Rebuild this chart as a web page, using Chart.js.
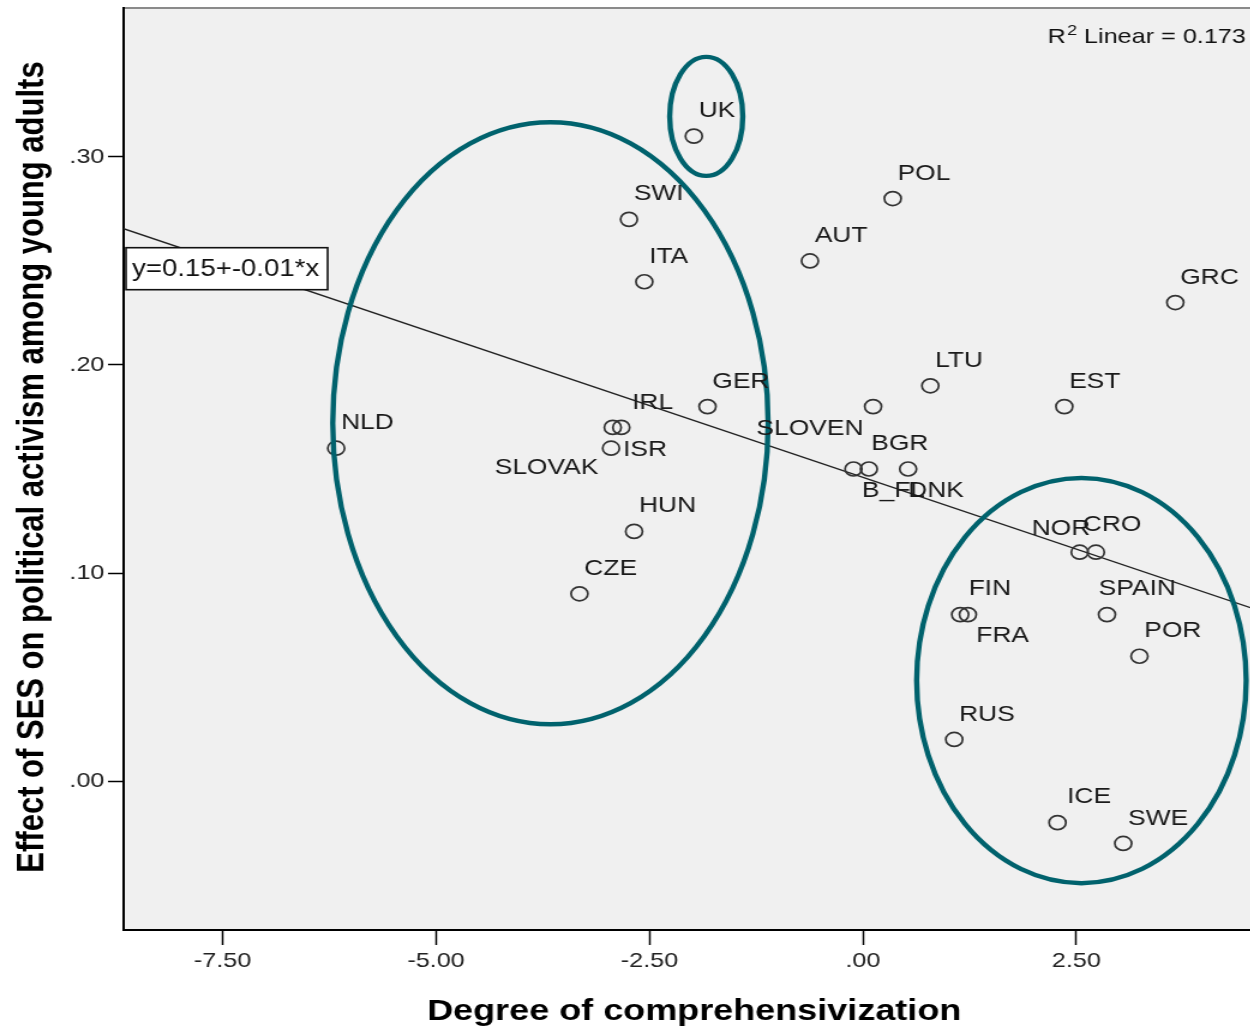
<!DOCTYPE html>
<html>
<head>
<meta charset="utf-8">
<script src="https://cdn.jsdelivr.net/npm/chart.js@4.4.1/dist/chart.umd.min.js"></script>
<style>
  html, body { margin: 0; padding: 0; background: #fff; overflow: hidden; }
  /* the original export is stretched sideways, so stretch the whole canvas */
  #wrap { width: 1042px; height: 1026px; transform: scaleX(1.2); transform-origin: 0 0; }
  canvas { display: block; }
</style>
</head>
<body>
<div id="wrap"><canvas id="ctx" width="1042" height="1026"></canvas></div>
<script>
const countries = ['UK','SWI','ITA','POL','AUT','GRC','NLD','IRL','SLOVAK','ISR','GER','HUN','CZE',
  'SLOVEN','LTU','EST','BGR','B_FL','DNK','NOR','CRO','FIN','FRA','SPAIN','POR','RUS','ICE','SWE'];
const comprehensivization = [-1.98,-2.74,-2.56,0.35,-0.62,3.66,-6.17,-2.83,-2.93,-2.95,-1.82,-2.68,-3.32,
  0.12,0.79,2.36,0.07,-0.11,0.53,2.54,2.73,1.14,1.23,2.86,3.24,1.07,2.28,3.05];
const sesEffect = [0.31,0.27,0.24,0.28,0.25,0.23,0.16,0.17,0.17,0.16,0.18,0.12,0.09,
  0.18,0.19,0.18,0.15,0.15,0.15,0.11,0.11,0.08,0.08,0.08,0.06,0.02,-0.02,-0.03];

const fitIntercept = 0.146;
const fitSlope = -0.0138;
const rSquared = 0.173;

const xMin = -8.66, xMax = 4.54;
const yMin = -0.0716, yMax = 0.3716;

// highlighted groups (data units)
const groupCenterX = [-3.66, -1.835, 2.56];
const groupCenterY = [0.172, 0.3195, 0.0483];
const groupRadiusX = [2.55, 0.428, 1.93];
const groupRadiusY = [0.1447, 0.0286, 0.0974];

// where each label sits relative to its point (default: up and right)
const labelPlace = {
  IRL: [9, -24, 'left'], SLOVAK: [-12, 41, 'right'], ISR: [10, 2, 'left'],
  SLOVEN: [-8, 22, 'right'], B_FL: [7, 22, 'left'], DNK: [0, 22, 'left'], BGR: [2, -25, 'left'],
  NOR: [-40, -23, 'left'], CRO: [-11, -27, 'left'], FIN: [7, -26, 'left'], FRA: [7, 21, 'left'],
  SPAIN: [-7, -26, 'left'], ICE: [8, -26, 'left']
};

const fmt = v => v.toFixed(2).replace(/^(-?)0\./, '$1.');
const teal = '#00626d';

// keep the plot area where the original has it
const noPad = s => { s.paddingTop = 0; s.paddingBottom = 0; s.paddingLeft = 0; s.paddingRight = 0; };

const decor = {
  id: 'decor',
  beforeDraw(chart) {
    const {ctx, chartArea: a} = chart;
    ctx.save();
    ctx.fillStyle = '#fff';
    ctx.fillRect(0, 0, chart.width, chart.height);
    ctx.fillStyle = '#f0f0f0';
    ctx.fillRect(a.left, a.top, a.right - a.left, a.bottom - a.top);
    ctx.strokeStyle = '#8a8a8a';
    ctx.lineWidth = 2;
    ctx.beginPath();
    ctx.moveTo(a.left, a.top);
    ctx.lineTo(a.right, a.top);
    ctx.stroke();
    ctx.restore();
  },
  afterDatasetsDraw(chart) {
    const {ctx, chartArea: a, scales: {x, y}} = chart;
    ctx.save();

    // group ellipses
    ctx.strokeStyle = teal;
    ctx.lineWidth = 4.4;
    groupCenterX.forEach((cx, i) => {
      const px = x.getPixelForValue(cx), py = y.getPixelForValue(groupCenterY[i]);
      const rx = x.getPixelForValue(cx + groupRadiusX[i]) - px;
      const ry = py - y.getPixelForValue(groupCenterY[i] + groupRadiusY[i]);
      ctx.beginPath();
      ctx.ellipse(px, py, rx, ry, 0, 0, Math.PI * 2);
      ctx.stroke();
    });

    // country labels
    ctx.fillStyle = '#1a1a1a';
    ctx.font = '22px "Liberation Sans", Arial, sans-serif';
    ctx.textBaseline = 'middle';
    const pts = chart.getDatasetMeta(0).data;
    countries.forEach((c, i) => {
      const p = labelPlace[c] || [4, -25, 'left'];
      ctx.textAlign = p[2];
      ctx.fillText(c, pts[i].x + p[0], pts[i].y + p[1]);
    });

    // equation box
    const eq = `y=${fitIntercept.toFixed(2)}+${fitSlope.toFixed(2)}*x`;
    ctx.font = '23px "Liberation Sans", Arial, sans-serif';
    ctx.textAlign = 'left';
    const bx = a.left + 2;
    const by = y.getPixelForValue(fitIntercept + fitSlope * xMin) + 19;
    const bw = ctx.measureText(eq).width + 12;
    ctx.fillStyle = '#fff';
    ctx.fillRect(bx, by, bw, 42);
    ctx.strokeStyle = '#111';
    ctx.lineWidth = 1.6;
    ctx.strokeRect(bx, by, bw, 42);
    ctx.fillStyle = '#111';
    ctx.fillText(eq, bx + 5, by + 22);

    // R squared note
    let rx0 = a.right - 169;
    const base = a.top + 35;
    ctx.textBaseline = 'alphabetic';
    ctx.font = '21px "Liberation Sans", Arial, sans-serif';
    ctx.fillText('R', rx0, base);
    rx0 += ctx.measureText('R').width + 1;
    ctx.font = '15px "Liberation Sans", Arial, sans-serif';
    ctx.fillText('2', rx0, base - 8);
    rx0 += ctx.measureText('2').width;
    ctx.font = '21px "Liberation Sans", Arial, sans-serif';
    ctx.fillText(' Linear = ' + rSquared.toFixed(3), rx0, base);

    ctx.restore();
  },
  afterDraw(chart) {
    const {ctx, chartArea: a} = chart;
    ctx.save();
    ctx.fillStyle = '#000';
    ctx.font = 'bold 30px "Liberation Sans", Arial, sans-serif';
    ctx.textAlign = 'center';
    ctx.textBaseline = 'alphabetic';
    ctx.fillText('Degree of comprehensivization', (a.left + a.right) / 2 + 6, chart.height - 6);
    ctx.translate(36, (a.top + a.bottom) / 2 - 2);
    ctx.rotate(-Math.PI / 2);
    ctx.font = 'bold 31px "Liberation Sans", Arial, sans-serif';
    ctx.fillText('Effect of SES on political activism among young adults', 0, 0);
    ctx.restore();
  }
};

const points = countries.map((c, i) => ({x: comprehensivization[i], y: sesEffect[i]}));
const fitLine = [xMin, xMax].map(v => ({x: v, y: fitIntercept + fitSlope * v}));

new Chart(document.getElementById('ctx'), {
  type: 'scatter',
  data: {
    datasets: [{
      label: 'countries',
      data: points,
      pointRadius: 7,
      pointBorderWidth: 1.7,
      pointBorderColor: '#333',
      pointBackgroundColor: 'rgba(0,0,0,0)'
    }, {
      type: 'line',
      label: 'fit',
      data: fitLine,
      borderColor: '#222',
      borderWidth: 1.4,
      pointRadius: 0
    }]
  },
  options: {
    responsive: false,
    animation: false,
    devicePixelRatio: 1,
    layout: {autoPadding: false, padding: {top: 8, right: 0, left: 0, bottom: 0}},
    plugins: {legend: {display: false}, tooltip: {enabled: false}},
    scales: {
      x: {
        type: 'linear', min: xMin, max: xMax,
        afterFit: s => { s.height = 96; noPad(s); },
        ticks: {stepSize: 2.5, includeBounds: false, callback: fmt, color: '#222',
          font: {family: '"Liberation Sans", Arial', size: 21}, padding: 4, maxRotation: 0},
        grid: {drawOnChartArea: false, tickLength: 15, tickColor: '#000', tickWidth: 1.5},
        border: {color: '#000', width: 2}
      },
      y: {
        type: 'linear', min: yMin, max: yMax,
        afterFit: s => { s.width = 103; noPad(s); },
        ticks: {stepSize: 0.1, includeBounds: false, callback: fmt, color: '#222',
          font: {family: '"Liberation Sans", Arial', size: 21}, padding: 3},
        grid: {drawOnChartArea: false, tickLength: 13, tickColor: '#000', tickWidth: 1.5},
        border: {color: '#000', width: 2}
      }
    }
  },
  plugins: [decor]
});
</script>
</body>
</html>
